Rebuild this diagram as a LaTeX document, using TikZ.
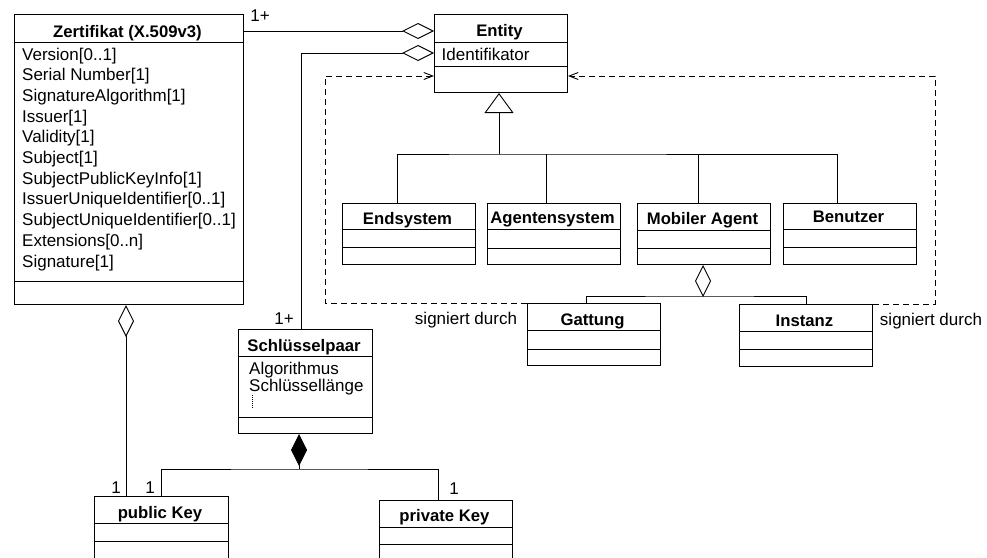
\documentclass[tikz,border=0pt]{standalone}
\usepackage{fontspec}
\setmainfont{Liberation Sans}
\usetikzlibrary{arrows.meta}

\tikzset{
  classframe/.style={draw, line width=1pt, inner sep=0pt},
  sepline/.style={line width=1pt},
  classtitle/.style={font=\fontsize{16.7}{20}\selectfont\bfseries, inner sep=0pt, anchor=base},
  attr/.style={font=\fontsize{17}{20}\selectfont, inner sep=0pt, anchor=base west},
  mult/.style={font=\fontsize{17}{20}\selectfont, inner sep=0pt, anchor=base},
  assoc/.style={line width=0.9pt},
  aggr/.style={assoc, -{Diamond[open, length=32pt, width=16pt, line width=0.9pt]}},
  comp/.style={assoc, -{Diamond[length=32pt, width=16pt]}},
  inherit/.style={assoc, -{Triangle[open, length=20pt, width=29pt, line width=0.9pt]}},
  signed/.style={line width=0.9pt, dash pattern=on 6pt off 4pt,
    -{Straight Barb[length=9pt, width=7pt, line width=0.9pt]}},
}

% class box: name, left, top, right, bottom, separator 1, separator 2, title, title baseline
\newcommand\umlclass[9]{%
  \node[classframe, minimum width={#4-#2}, minimum height={#5-#3}, anchor=north west] (#1) at (#2,#3) {};
  \draw[sepline] (#2,#6) -- (#4,#6);
  \draw[sepline] (#2,#7) -- (#4,#7);
  \node[classtitle] (#1-title) at ({(#2+#4)/2-1},#9) {#8};
}

\begin{document}
\begin{tikzpicture}[x=1pt, y=-1pt]
  \useasboundingbox (0,0) rectangle (987,557);
  \clip (0,0) rectangle (987,557);
  \fill[white] (0,0) rectangle (987,557);

  % classes
  \umlclass{z}{14}{14}{243}{304}{42}{281}{Zertifikat (X.509v3)}{37.5}
  \umlclass{e}{434}{14}{567}{92}{42}{66}{Entity}{36}
  \umlclass{es}{342}{203}{475}{264}{229}{247}{Endsystem}{224.3}
  \umlclass{as}{487}{203}{620}{264}{229.5}{248}{Agentensystem}{223}
  \umlclass{ma}{637}{203}{770}{264}{230}{248}{Mobiler Agent}{224}
  \umlclass{bu}{783}{203}{916}{264}{229}{247}{Benutzer}{222.7}
  \umlclass{ga}{527}{303}{660}{365}{330}{349}{Gattung}{325}
  \umlclass{in}{739}{304}{872}{366}{331}{349}{Instanz}{326}
  \umlclass{sp}{238}{329}{372}{433}{356}{417}{Schlüsselpaar}{351}
  \umlclass{pk}{94}{496}{228}{562}{523}{541}{public Key}{518}
  \umlclass{prk}{379}{500}{512}{562}{527}{544}{private Key}{521.5}

  % attributes
  \foreach \t [count=\i] in {{Version[0..1]}, {Serial Number[1]}, {SignatureAlgorithm[1]},
      {Issuer[1]}, {Validity[1]}, {Subject[1]}, {SubjectPublicKeyInfo[1]},
      {IssuerUniqueIdentifier[0..1]}, {SubjectUniqueIdentifier[0..1]},
      {Extensions[0..n]}, {Signature[1]}}
    \node[attr] (z-a\i) at (22,{60+20.7*(\i-1)}) {\t};
  \node[attr] (e-a1) at (441.5,60) {Identifikator};
  \node[attr] (sp-a1) at (249,374) {Algorithmus};
  \node[attr] (sp-a2) at (249,391) {Schlüssellänge};
  \draw[line width=0.6pt, dash pattern=on 0.7pt off 1.3pt] (252,395) -- (252,408);

  % associations with Entity
  \draw[aggr] (z.east |- 0,31) -- (e.west |- 0,31);
  \draw[aggr] (sp.north -| 301,0) |- (e.west |- 0,53);
  \node[mult] (m1) at (260,21) {1+};
  \node[mult] (m2) at (284,324) {1+};

  % generalization
  \coordinate (gen) at (499,154);
  \draw[inherit] (gen) -- (e.south -| gen);
  \draw[assoc] (es.north -| 397,0) |- (gen) -| (bu.north -| 837,0);
  \draw[assoc] (as.north -| 546,0) -- (gen -| 546,0);
  \draw[assoc] (ma.north -| 698,0) -- (gen -| 698,0);

  % Mobiler Agent aggregation
  \coordinate (maj) at (703,296);
  \draw[aggr] (maj) -- (ma.south -| maj);
  \draw[assoc] (ga.north -| 586,0) |- (maj) -| (in.north -| 806,0);

  % signing dependencies
  \draw[signed] (ga.north west) -| (325,76) -- (e.west |- 0,76);
  \draw[signed] (in.north east) -- ++(62,0) |- (e.east |- 0,76);
  \node[mult] (sgL) at (466,324) {signiert durch};
  \node[mult] (sgR) at (931,325) {signiert durch};

  % key pair
  \draw[aggr] (pk.north -| 126,0) -- (z.south -| 126,0);
  \coordinate (spj) at (299,469);
  \draw[comp] (spj) -- (sp.south -| spj);
  \draw[assoc] (pk.north -| 161,0) |- (spj) -| (prk.north -| 438,0);
  \node[mult] (m3) at (116,493) {1};
  \node[mult] (m4) at (150,493) {1};
  \node[mult] (m5) at (454,494) {1};
\end{tikzpicture}
\end{document}
